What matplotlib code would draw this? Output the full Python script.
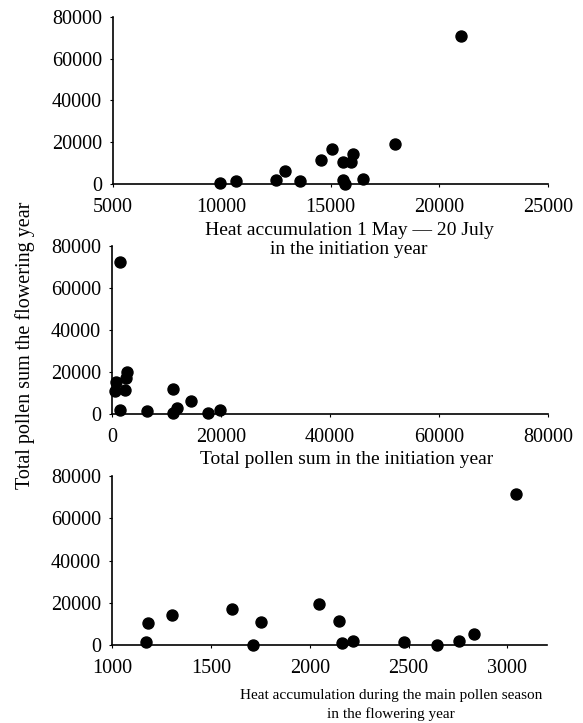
"""Pollen sum in the flowering year vs three predictors"""

import matplotlib.pyplot as plt

# Panel 1: heat accumulation 1 May - 20 July in the initiation year
heat_init = [21000, 17970, 15060, 14550, 15580, 15950, 16040, 12900, 12490,
             13620, 15560, 15680, 16500, 9920, 10660]
pollen_1 = [70900, 19300, 17000, 11400, 10300, 10700, 14200, 6000, 1900,
            1300, 1900, 0, 2500, 500, 1300]

# Panel 2: total pollen sum in the initiation year
pollen_init = [1500, 680, 480, 2320, 2730, 2660, 1430, 6340, 11110, 11110,
               11930, 14530, 17660, 19780]
pollen_2 = [72400, 15200, 11000, 11300, 20200, 17300, 1800, 1600, 12100,
            300, 2900, 6400, 700, 1900]

# Panel 3: heat accumulation during the main pollen season
heat_flower = [3043, 1184, 1173, 1301, 1608, 1752, 1713, 2048, 2146, 2161,
               2221, 2479, 2642, 2753, 2830]
pollen_3 = [71400, 10600, 1300, 14400, 17000, 11100, 200, 19200, 11300, 800,
            1900, 1400, 0, 2100, 5400]

y_ticks = [0, 20000, 40000, 60000, 80000]

plt.rcParams['font.family'] = ['Liberation Serif', 'DejaVu Serif']
plt.rcParams['font.size'] = 14.5

W, H = 583, 723
fig = plt.figure(figsize=(W / 100, H / 100), dpi=100)


def px_axes(left, right, bottom, top):
    return fig.add_axes([left / W, 1 - bottom / H, (right - left) / W, (bottom - top) / H])


def style(ax):
    ax.spines['top'].set_visible(False)
    ax.spines['right'].set_visible(False)
    for s in ('left', 'bottom'):
        ax.spines[s].set_linewidth(1.2)
    ax.tick_params(axis='y', length=2, width=0.8, pad=6)
    ax.tick_params(axis='x', length=2, width=0.8, pad=8)
    ax.set_ylim(0, 80000)
    ax.set_yticks(y_ticks)


ax1 = px_axes(113, 548, 184, 17)
ax1.scatter(heat_init, pollen_1, s=63, color='black', clip_on=False, zorder=3)
ax1.set_xlim(5000, 25000)
ax1.set_xticks([5000, 10000, 15000, 20000, 25000])
style(ax1)

ax2 = px_axes(112, 548, 414, 246)
ax2.scatter(pollen_init, pollen_2, s=63, color='black', clip_on=False, zorder=3)
ax2.set_xlim(0, 80000)
ax2.set_xticks([0, 20000, 40000, 60000, 80000])
style(ax2)

ax3 = px_axes(112, 547, 645, 476)
ax3.scatter(heat_flower, pollen_3, s=63, color='black', clip_on=False, zorder=3)
ax3.set_xlim(1000, 3200)
ax3.set_xticks([1000, 1500, 2000, 2500, 3000])
style(ax3)

# axis labels placed by pixel position
fig.text(349 / W, 1 - 240 / H, "Heat accumulation 1 May — 20 July\nin the initiation year",
         ha='center', va='center', linespacing=1.1, fontsize=14)
fig.text(347 / W, 1 - 459 / H, "Total pollen sum in the initiation year",
         ha='center', va='center', fontsize=14)
fig.text(391 / W, 1 - 705 / H, "Heat accumulation during the main pollen season\nin the flowering year",
         ha='center', va='center', linespacing=1.4, fontsize=11)
fig.text(25 / W, 1 - 345 / H, "Total pollen sum the flowering year",
         ha='center', va='center', rotation=90, fontsize=14.5)

plt.savefig("out.png", dpi=100)
